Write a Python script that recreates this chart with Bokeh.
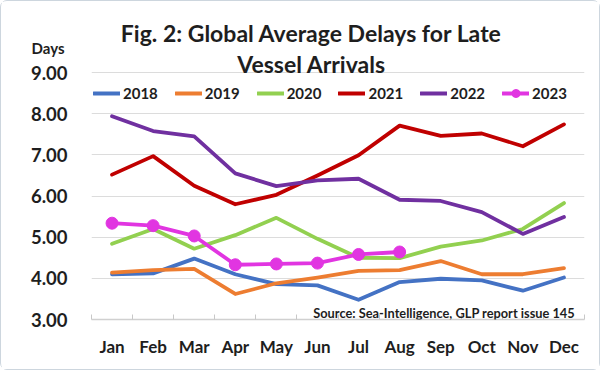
from bokeh.plotting import figure
from bokeh.models import FixedTicker, Legend, LegendItem, Label, Range1d, LinearAxis
from bokeh.embed import file_html
from bokeh.resources import INLINE

months = ["Jan", "Feb", "Mar", "Apr", "May", "Jun", "Jul", "Aug", "Sep", "Oct", "Nov", "Dec"]
y2018 = [4.10, 4.12, 4.48, 4.10, 3.86, 3.83, 3.48, 3.91, 3.99, 3.95, 3.70, 4.02]
y2019 = [4.14, 4.20, 4.23, 3.62, 3.88, 4.02, 4.18, 4.20, 4.42, 4.10, 4.10, 4.25]
y2020 = [4.84, 5.20, 4.72, 5.05, 5.47, 4.96, 4.50, 4.49, 4.77, 4.92, 5.20, 5.83]
y2021 = [6.52, 6.97, 6.25, 5.80, 6.03, 6.50, 6.99, 7.71, 7.46, 7.52, 7.21, 7.74]
y2022 = [7.94, 7.58, 7.45, 6.55, 6.24, 6.38, 6.42, 5.91, 5.88, 5.61, 5.08, 5.49]
y2023 = [5.34, 5.28, 5.03, 4.33, 4.35, 4.37, 4.58, 4.64]
years = ["2018", "2019", "2020", "2021", "2022", "2023"]
colors = ["#4472C4", "#ED7D31", "#92D050", "#C00000", "#7030A0", "#E135E1"]
series = [y2018, y2019, y2020, y2021, y2022, y2023]
yticks = [3, 4, 5, 6, 7, 8, 9]

FONT = "Lato"
TXT = "#1e1e1e"

# the frame extends up to the top of the figure so the title can sit inside it
p = figure(width=600, height=370, output_backend="svg", toolbar_location=None,
           x_range=Range1d(0.5, 12.5), y_range=Range1d(3, 10.727),
           min_border_left=90, min_border_right=17, min_border_top=0, min_border_bottom=52)
p.outline_line_color = None
p.background_fill_color = "white"
p.border_fill_color = "white"
p.styles = {"border": "1px solid #cdd6de", "border-radius": "7px"}

xs_all = list(range(1, 13))
p.xaxis.ticker = FixedTicker(ticks=xs_all, minor_ticks=[i + 0.5 for i in range(0, 13)])
p.xaxis.major_label_overrides = {i + 1: m for i, m in enumerate(months)}
p.xaxis.major_tick_line_color = None
p.xaxis.minor_tick_in = 5
p.xaxis.minor_tick_out = 0
p.xaxis.minor_tick_line_color = "#c8c8c8"
p.xaxis.axis_line_color = "#d0d0d0"
p.xaxis.axis_line_width = 1.5
p.xaxis.major_label_text_font = FONT
p.xaxis.major_label_text_font_style = "bold"
p.xaxis.major_label_text_font_size = "17px"
p.xaxis.major_label_text_color = TXT
p.xaxis.major_label_standoff = 10

p.yaxis.ticker = FixedTicker(ticks=yticks)
p.yaxis.major_label_overrides = {t: f"{t:.2f}" for t in yticks}
p.yaxis.axis_line_color = None
p.yaxis.major_tick_line_color = None
p.yaxis.minor_tick_line_color = None
p.yaxis.major_label_text_font = FONT
p.yaxis.major_label_text_font_style = "bold"
p.yaxis.major_label_text_font_size = "18.5px"
p.yaxis.major_label_text_color = TXT
p.yaxis.major_label_standoff = 18

days_axis = LinearAxis(ticker=FixedTicker(ticks=[9.586]), major_label_overrides={9.586: "Days"},
                       axis_line_color=None, major_tick_line_color=None, minor_tick_line_color=None,
                       major_label_text_font=FONT, major_label_text_font_style="bold",
                       major_label_text_font_size="15px", major_label_text_color=TXT,
                       major_label_standoff=-43)
p.add_layout(days_axis, "left")

p.xgrid.grid_line_color = None
p.ygrid.ticker = FixedTicker(ticks=yticks)
p.ygrid.grid_line_color = "#dcdcdc"
p.ygrid.grid_line_width = 1.2

items = []
for yr, col, vals in zip(years, colors, series):
    xs = xs_all[:len(vals)]
    r = p.line(xs, vals, line_color=col, line_width=3.8, line_join="round", line_cap="round")
    rs = [r]
    if yr == "2023":
        s = p.scatter(xs, vals, size=12, fill_color=col, line_color=col)
        rs.append(s)
    items.append(LegendItem(label=yr, renderers=rs))

legend = Legend(items=items, orientation="horizontal", location=(2, 216),
                glyph_width=27, glyph_height=20, label_height=20, label_standoff=3,
                spacing=17, padding=5, margin=0,
                label_text_font=FONT, label_text_font_style="bold",
                label_text_font_size="15px", label_text_color=TXT,
                background_fill_alpha=0, border_line_color=None)
p.add_layout(legend, "center")

title1 = Label(x=5.855, y=9.95, text="Fig. 2: Global Average Delays for Late",
               text_font=FONT, text_font_style="bold", text_font_size="23px",
               text_color=TXT, text_align="center", text_baseline="alphabetic")
title2 = Label(x=5.855, y=9.197, text="Vessel Arrivals",
               text_font=FONT, text_font_style="bold", text_font_size="23px",
               text_color=TXT, text_align="center", text_baseline="alphabetic")
source = Label(x=12.27, y=3.146, text="Source: Sea-Intelligence, GLP report issue 145",
               text_font=FONT, text_font_style="bold", text_font_size="12.8px",
               text_color=TXT, text_align="right", text_baseline="middle")
for lab in (title1, title2, source):
    p.add_layout(lab)

open("out.html", "w").write(file_html(p, INLINE))
